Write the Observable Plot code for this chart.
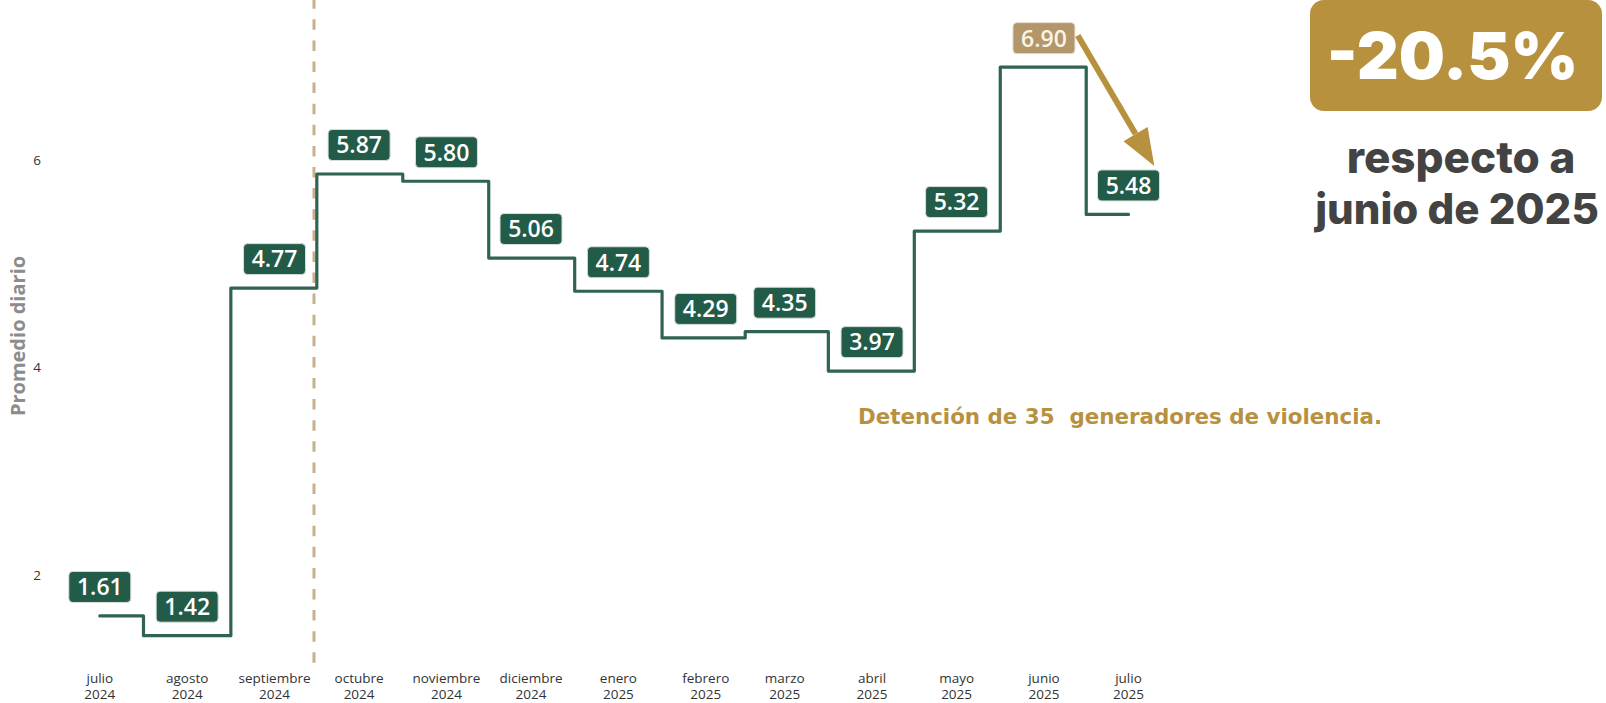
<!DOCTYPE html>
<html>
<head>
<meta charset="utf-8">
<script src="https://cdn.jsdelivr.net/npm/d3@7"></script>
<script src="https://cdn.jsdelivr.net/npm/@observablehq/plot@0.6"></script>
<style>
  body { margin: 0; background: #ffffff; }
  #wrap { position: relative; width: 1606px; height: 703px; overflow: hidden; background: #ffffff; }
  #wrap > svg { position: absolute; left: 0; top: 0; }
</style>
</head>
<body>
<div id="wrap"></div>
<script>
// ---- Data ----
const monthNames = ["julio","agosto","septiembre","octubre","noviembre","diciembre","enero","febrero","marzo","abril","mayo","junio","julio"];
const monthIndex = [6,7,8,9,10,11,0,1,2,3,4,5,6];
const years = [2024,2024,2024,2024,2024,2024,2025,2025,2025,2025,2025,2025,2025];
const values = [1.61,1.42,4.77,5.87,5.80,5.06,4.74,4.29,4.35,3.97,5.32,6.90,5.48];
const highlightIndex = 11; // junio 2025
const yTicks = [2,4,6];
const yLabel = "Promedio diario";
const eventDate = [new Date(Date.UTC(2024,8,15))];
const noteText = ["Detención de 35  generadores de violencia."];
const noteAnchor = [{date: new Date(Date.UTC(2025,2,27)), value: 3.53}];
const arrowAnnotation = [{
  x1: new Date(Date.UTC(2025,5,13)), y1: 7.205,
  x2: new Date(Date.UTC(2025,6,3,12)), y2: 6.255
}];
const badgeText = "-20.5%";
const badgeLines = ["respecto a", "junio de 2025"];

// ---- Build table ----
const data = values.map((v, i) => ({
  date: new Date(Date.UTC(years[i], monthIndex[i], 1)),
  value: v,
  month: monthNames[i],
  year: years[i],
  highlight: i === highlightIndex
}));
const tickLabel = new Map(data.map(d => [d.date.getTime(), `${d.month}\n${d.year}`]));

// ---- Custom symbols ----
const labelBox = {
  draw(ctx) {
    const w = 62, h = 31, r = 4, x0 = -w / 2, y0 = -h / 2;
    ctx.moveTo(x0 + r, y0);
    ctx.lineTo(x0 + w - r, y0);
    ctx.arcTo(x0 + w, y0, x0 + w, y0 + r, r);
    ctx.lineTo(x0 + w, y0 + h - r);
    ctx.arcTo(x0 + w, y0 + h, x0 + w - r, y0 + h, r);
    ctx.lineTo(x0 + r, y0 + h);
    ctx.arcTo(x0, y0 + h, x0, y0 + h - r, r);
    ctx.lineTo(x0, y0 + r);
    ctx.arcTo(x0, y0, x0 + r, y0, r);
    ctx.closePath();
  }
};
const arrowHead = {
  draw(ctx) {
    const ux = 0.507, uy = 0.862, L = 37, hw = 14;
    const px = uy, py = -ux;
    ctx.moveTo(ux * L, uy * L);
    ctx.lineTo(px * hw, py * hw);
    ctx.lineTo(-px * hw, -py * hw);
    ctx.closePath();
  }
};

const green = "#2f6352";
const boxGreen = "#235b49";
const tan = "#b39669";
const gold = "#b8913f";

const chart = Plot.plot({
  width: 1606,
  height: 703,
  marginLeft: 50,
  marginRight: 0,
  marginTop: 0,
  marginBottom: 42,
  style: { fontFamily: "'Open Sans', sans-serif", background: "transparent" },
  x: { type: "utc", domain: [data[0].date, data[data.length - 1].date], range: [99.3, 1128] },
  y: { domain: [2, 6], range: [575, 160] },
  marks: [
    Plot.ruleX(eventDate, {
      stroke: "#c8b08a", strokeWidth: 3, strokeDasharray: "10.5,10.6", strokeDashoffset: 1.8,
      insetBottom: -4
    }),
    Plot.line(data, { x: "date", y: "value", curve: "step", stroke: green, strokeWidth: 3.2 }),
    Plot.dot(data, {
      filter: d => !d.highlight, x: "date", y: "value", dy: -29,
      symbol: labelBox, fill: boxGreen, stroke: "#d9dedb", strokeWidth: 1
    }),
    Plot.dot(data, {
      filter: d => d.highlight, x: "date", y: "value", dy: -29,
      symbol: labelBox, fill: tan, stroke: "#e6ddcc", strokeWidth: 1
    }),
    Plot.text(data, {
      x: "date", y: "value", dy: -28, text: d => d.value.toFixed(2),
      fill: d => d.highlight ? "#fbf4e6" : "#ffffff",
      fontSize: 23, fontWeight: 600
    }),
    Plot.link(arrowAnnotation, {
      x1: "x1", y1: "y1", x2: "x2", y2: "y2", stroke: gold, strokeWidth: 6
    }),
    Plot.dot(arrowAnnotation, { x: "x2", y: "y2", symbol: arrowHead, fill: gold, stroke: "none" }),
    Plot.text(noteAnchor, {
      x: "date", y: "value", text: () => noteText[0], textAnchor: "start",
      fill: gold, fontSize: 21.4, fontWeight: 700, fontFamily: "'DejaVu Sans', sans-serif"
    }),
    Plot.axisY({
      ticks: yTicks, tickFormat: d => String(d), tickSize: 0, tickPadding: 9.5, label: null,
      fontSize: 13.5, fill: "#333"
    }),
    Plot.text([yLabel], {
      frameAnchor: "left", dx: -32, dy: 5, rotate: -90, text: d => d, textAnchor: "middle",
      fill: "#8c8c8c", fontSize: 20, fontWeight: 700
    }),
    Plot.axisX({
      ticks: data.map(d => d.date), tickFormat: d => tickLabel.get(d.getTime()),
      tickSize: 0, tickPadding: 11, label: null, fontSize: 13.5, lineHeight: 1.14, fill: "#333"
    })
  ]
});

const wrap = document.getElementById("wrap");
wrap.appendChild(chart);

// ---- Badge overlay ----
const ov = d3.create("svg").attr("width", 1606).attr("height", 703);
ov.append("rect").attr("x", 1310).attr("y", 0).attr("width", 292).attr("height", 111)
  .attr("rx", 14).attr("fill", gold);
ov.append("text").attr("x", 1452.5).attr("y", 79).attr("text-anchor", "middle")
  .attr("font-family", "Inter, sans-serif").attr("font-weight", 900).attr("font-size", 65)
  .attr("fill", "#ffffff").text(badgeText);
const lineYs = [173, 224];
const lineXs = [1461, 1457];
const lineSizes = [44, 42];
badgeLines.forEach((t, i) => {
  ov.append("text").attr("x", lineXs[i]).attr("y", lineYs[i]).attr("text-anchor", "middle")
    .attr("font-family", "Inter, sans-serif").attr("font-weight", 800).attr("font-size", lineSizes[i])
    .attr("fill", "#434343").text(t);
});
wrap.appendChild(ov.node());
</script>
</body>
</html>
